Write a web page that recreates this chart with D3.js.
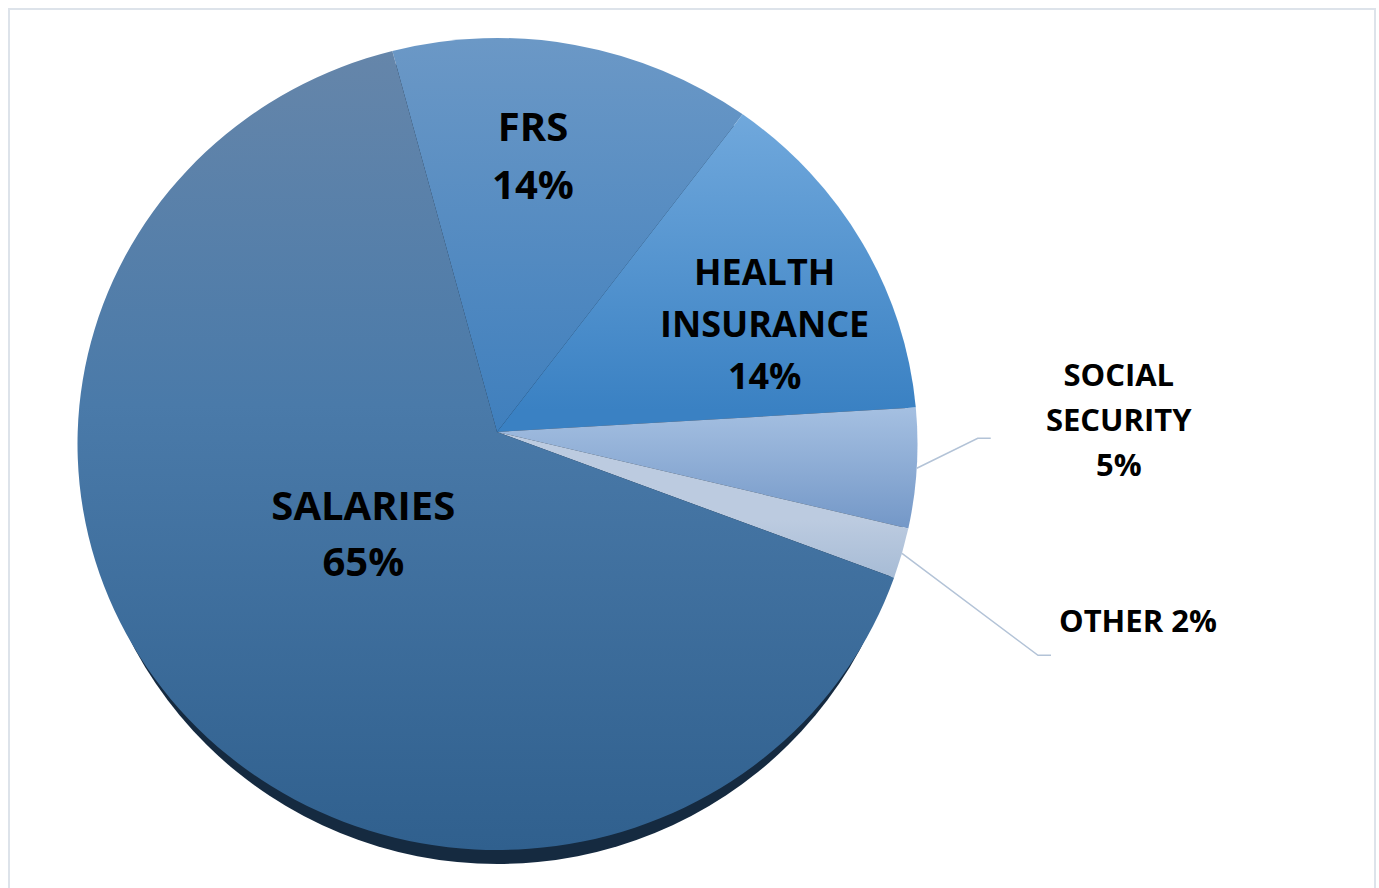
<!DOCTYPE html>
<html>
<head>
<meta charset="utf-8">
<script src="https://cdn.jsdelivr.net/npm/d3@7"></script>
<style>
  html, body { margin: 0; padding: 0; background: #ffffff; }
  svg { display: block; }
  text { font-family: "Open Sans", "DejaVu Sans", sans-serif; font-weight: 700; fill: #000; }
</style>
</head>
<body>
<svg id="chart" width="1379" height="888"></svg>
<script>
// ---------------- data (shares in percent) ----------------
const categories = ["FRS", "HEALTH INSURANCE", "SOCIAL SECURITY", "OTHER", "SALARIES"];
const labelNames = [["FRS"], ["HEALTH", "INSURANCE"], ["SOCIAL", "SECURITY"], ["OTHER"], ["SALARIES"]];
const values = [13.9, 13.6, 4.75, 2.0, 65.4];

// ---------------- styles / layout ----------------
const W = 1379, H = 888;
const cx = 497.5, cy = 444, rx = 420, ry = 406;   // ellipse of the pie top face
const apex = [497, 432];                            // point where slices meet (tilted view)
const depth = 14;                                   // visible thickness at the bottom
const startDeg = -14.5;

const gradStops = [
  [["#6b98c6", 0], ["#3f7fbd", 1]],                       // FRS
  [["#70a8dc", 0], ["#3a81c3", 1]],                       // HEALTH
  [["#a4bfe1", 0], ["#7397c7", 1]],                       // SOCIAL
  [["#bccbe0", 0], ["#a6bbd5", 1]],                       // OTHER
  [["#6686aa", 0], ["#4a7aa9", 0.45], ["#30608e", 1]]     // SALARIES
];
const gradY = [[40, 432], [115, 410], [410, 530], [520, 580], [40, 850]];
const fontSizes = [40, 36, 31, 31, 40];
const lineGap = [58, 52, 45, 45, 56];
const inside = [true, true, false, false, true];
const insideFrac = [0.685, 0.69, 0, 0, 0.41];
const insideOff = [[-17, -3], [16, 31], [0, 0], [0, 0], [-7, -11]];
const elbowOff = [null, null, [61, -30], [136, 102]];
const tailLen = 13;
const leaderColor = "#b3c3d7";

// ---------------- drawing ----------------
const svg = d3.select("#chart");
const defs = svg.append("defs");

// chart border
svg.append("rect")
  .attr("x", 9).attr("y", 9).attr("width", 1366).attr("height", 900)
  .attr("fill", "#ffffff").attr("stroke", "#dde3ea").attr("stroke-width", 2);

const toRad = d => d * Math.PI / 180;
const pie = d3.pie().sort(null).value(d => d)
  .startAngle(toRad(startDeg)).endAngle(toRad(startDeg + 360));
const arcs = pie(values);

const pt = (a) => [cx + rx * Math.sin(a), cy - ry * Math.cos(a)];

// side / shadow of the 3D disc
svg.append("ellipse")
  .attr("cx", cx).attr("cy", cy + depth).attr("rx", rx - 9).attr("ry", ry)
  .attr("fill", "#152a40");

arcs.forEach((d, i) => {
  const g = defs.append("linearGradient")
    .attr("id", "g" + i).attr("gradientUnits", "userSpaceOnUse")
    .attr("x1", 0).attr("y1", gradY[i][0]).attr("x2", 0).attr("y2", gradY[i][1]);
  gradStops[i].forEach(s => g.append("stop").attr("offset", s[1]).attr("stop-color", s[0]));
});

function slicePath(d) {
  const p0 = pt(d.startAngle), p1 = pt(d.endAngle);
  const large = (d.endAngle - d.startAngle) > Math.PI ? 1 : 0;
  return `M${apex[0]},${apex[1]} L${p0[0]},${p0[1]} A${rx},${ry} 0 ${large} 1 ${p1[0]},${p1[1]} Z`;
}

svg.append("g").selectAll("path")
  .data(arcs).join("path")
  .attr("d", slicePath)
  .attr("fill", (d, i) => `url(#g${i})`);

// labels
const pct = v => Math.round(v) + "%";

function drawBlock(lines, xc, yc, i) {
  const n = lines.length;
  const t = svg.append("text")
    .attr("text-anchor", "middle")
    .style("font-size", fontSizes[i] + "px");
  lines.forEach((s, k) => {
    t.append("tspan")
      .attr("x", xc)
      .attr("y", yc + (k - (n - 1) / 2) * lineGap[i])
      .attr("dy", "0.357em")
      .text(s);
  });
}

arcs.forEach((d, i) => {
  const mid = (d.startAngle + d.endAngle) / 2;
  if (inside[i]) {
    const f = insideFrac[i];
    const x = apex[0] + f * rx * Math.sin(mid) + insideOff[i][0];
    const y = apex[1] - f * ry * Math.cos(mid) + insideOff[i][1];
    drawBlock([...labelNames[i], pct(d.value)], x, y, i);
  } else {
    const e = pt(mid);
    const el = [e[0] + elbowOff[i][0], e[1] + elbowOff[i][1]];
    const tail = [el[0] + tailLen, el[1]];
    svg.append("polyline")
      .attr("points", [e, el, tail].map(p => p.join(",")).join(" "))
      .attr("fill", "none").attr("stroke", leaderColor).attr("stroke-width", 1.5);
    if (labelNames[i].length > 1) {
      drawBlock([...labelNames[i], pct(d.value)], tail[0] + 128, tail[1] - 18, i);
    } else {
      svg.append("text")
        .attr("x", tail[0] + 8).attr("y", tail[1] - 34).attr("dy", "0.357em")
        .attr("text-anchor", "start")
        .style("font-size", fontSizes[i] + "px")
        .text(labelNames[i][0] + " " + pct(d.value));
    }
  }
});
</script>
</body>
</html>
